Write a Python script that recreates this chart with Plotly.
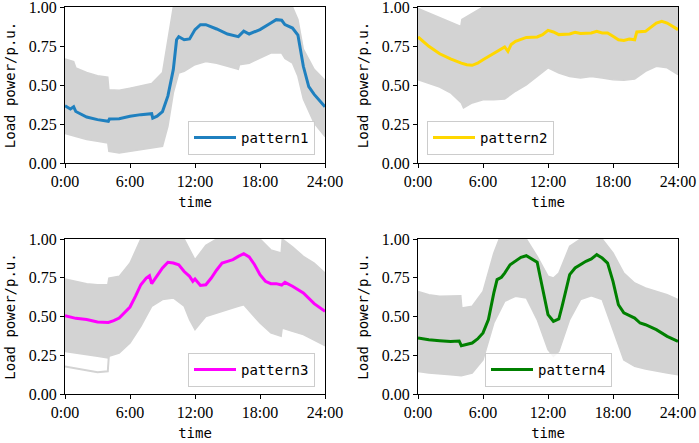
import plotly.graph_objects as go
from plotly.subplots import make_subplots

# hour ticks
tick_vals = [0, 6, 12, 18, 24]
tick_text = ["0:00", "6:00", "12:00", "18:00", "24:00"]

# ---- pattern1 ----
p1_t = [0, 0.5, 0.8, 1, 2, 3, 4, 4.1, 5, 6, 7, 8, 8.1, 8.5, 9, 9.5, 10, 10.3, 10.5, 11, 11.5,
        12, 12.5, 13, 14, 15, 16, 16.5, 17, 18, 19, 19.5, 20, 20.3, 21, 21.5, 22, 22.5, 23, 24]
p1_y = [0.367, 0.346, 0.36, 0.33, 0.295, 0.278, 0.267, 0.282, 0.284, 0.30, 0.31, 0.316, 0.288,
        0.30, 0.33, 0.43, 0.60, 0.79, 0.81, 0.79, 0.795, 0.855, 0.887, 0.887, 0.859, 0.827, 0.81,
        0.845, 0.827, 0.855, 0.897, 0.919, 0.915, 0.887, 0.865, 0.82, 0.62, 0.49, 0.44, 0.36]
p1_up_t = [0, 0.8, 1, 2, 3, 3.95, 4.05, 5, 6, 7, 8, 9, 9.5, 10, 21, 21.5, 22, 23, 24]
p1_up = [0.667, 0.65, 0.61, 0.58, 0.56, 0.55, 0.47, 0.466, 0.48, 0.496, 0.51, 0.58, 0.79, 1.0,
         1.0, 0.92, 0.73, 0.60, 0.53]
p1_lo_t = [0, 1, 2, 3, 3.95, 4.05, 5, 6, 7, 8, 9, 9.5, 10, 10.5, 11, 12, 13, 14, 15, 16, 16.1,
           17, 18, 19, 20, 20.3, 21, 21.5, 22, 23, 24]
p1_lo = [0.19, 0.17, 0.15, 0.14, 0.128, 0.075, 0.064, 0.075, 0.085, 0.096, 0.107, 0.235, 0.45,
         0.577, 0.588, 0.63, 0.65, 0.64, 0.62, 0.60, 0.63, 0.64, 0.67, 0.705, 0.705, 0.67, 0.64,
         0.556, 0.41, 0.256, 0.17]

# ---- pattern2 ----
p2_t = [0, 1, 2, 3, 4, 4.5, 5, 5.5, 6, 7, 7.5, 8, 8.3, 8.6, 9, 10, 11, 11.5, 12, 12.5, 13, 14,
        14.5, 15, 16, 16.5, 17, 17.5, 18, 18.5, 19, 19.5, 20, 20.2, 21, 22, 22.5, 23, 24]
p2_y = [0.808, 0.748, 0.70, 0.667, 0.64, 0.63, 0.626, 0.64, 0.662, 0.705, 0.726, 0.744, 0.716,
        0.76, 0.78, 0.805, 0.808, 0.823, 0.85, 0.84, 0.823, 0.827, 0.838, 0.83, 0.834, 0.844,
        0.834, 0.834, 0.812, 0.79, 0.786, 0.795, 0.79, 0.84, 0.844, 0.897, 0.908, 0.897, 0.855]
p2_up_t = [0, 1, 2, 3, 3.95, 4.05, 5, 6, 24]
p2_up = [0.99, 0.96, 0.93, 0.90, 0.876, 0.92, 0.96, 1.0, 1.0]
p2_lo_t = [0, 1, 2, 3, 4, 4.2, 5, 6, 7, 8, 9, 10, 11, 12, 13, 14, 15, 16, 17, 18, 19, 20, 21,
           22, 23, 24]
p2_lo = [0.534, 0.513, 0.487, 0.45, 0.385, 0.353, 0.385, 0.406, 0.406, 0.41, 0.46, 0.50, 0.555,
         0.61, 0.577, 0.555, 0.545, 0.555, 0.545, 0.534, 0.53, 0.538, 0.587, 0.62, 0.61, 0.566]

# ---- pattern3 ----
p3_t = [0, 1, 2, 3, 4, 4.5, 5, 5.5, 6, 6.5, 7, 7.5, 7.8, 8, 8.5, 9, 9.5, 10, 10.5, 11, 11.5,
        11.8, 12, 12.5, 13, 13.5, 14, 14.5, 15, 15.5, 16, 16.5, 17, 17.5, 18, 18.5, 19, 19.5,
        20, 20.3, 21, 22, 23, 24]
p3_y = [0.505, 0.488, 0.48, 0.465, 0.462, 0.473, 0.49, 0.523, 0.561, 0.63, 0.705, 0.748, 0.763,
        0.712, 0.759, 0.813, 0.85, 0.845, 0.834, 0.79, 0.759, 0.727, 0.742, 0.70, 0.705, 0.748,
        0.80, 0.845, 0.856, 0.867, 0.888, 0.905, 0.884, 0.834, 0.77, 0.727, 0.712, 0.712,
        0.703, 0.72, 0.695, 0.652, 0.583, 0.533]
p3_up_t = [0, 1, 2, 3, 3.95, 4.05, 5, 6, 7, 11, 12, 13, 14, 18, 19, 19.95, 20.05, 21, 22, 23, 24]
p3_up = [0.742, 0.727, 0.712, 0.705, 0.705, 0.748, 0.759, 0.845, 1.0, 1.0, 0.866, 0.96, 1.0,
         1.0, 0.93, 0.91, 1.0, 0.95, 0.888, 0.845, 0.78]
p3_lo_t = [0, 1, 2, 3, 3.95, 4.05, 5, 6, 7, 8, 9, 10, 11, 11.5, 12, 12.5, 13, 14, 15, 16, 16.5,
           17, 18, 19, 19.95, 20.05, 21, 22, 23, 24]
p3_lo = [0.275, 0.264, 0.254, 0.243, 0.232, 0.243, 0.264, 0.329, 0.437, 0.566, 0.609, 0.62,
         0.566, 0.48, 0.415, 0.458, 0.50, 0.523, 0.544, 0.566, 0.576, 0.533, 0.458, 0.394, 0.372,
         0.426, 0.404, 0.383, 0.346, 0.312]
# one low profile under the band in the early hours
p3_out_t = [0, 1, 2, 3, 3.95, 4.05]
p3_out = [0.178, 0.165, 0.15, 0.14, 0.146, 0.25]

# ---- pattern4 ----
p4_t = [0, 1, 2, 3, 3.8, 4, 5, 5.5, 6, 6.5, 7, 7.3, 7.7, 8, 8.5, 9, 9.5, 10, 10.5, 11, 11.3,
        11.7, 12, 12.5, 13, 13.3, 13.7, 14, 14.5, 15, 15.5, 16, 16.5, 17, 17.5, 18, 18.5, 19,
        20, 20.5, 21, 22, 23, 24]
p4_y = [0.361, 0.35, 0.344, 0.338, 0.342, 0.312, 0.329, 0.355, 0.394, 0.48, 0.652, 0.738, 0.753,
        0.78, 0.834, 0.856, 0.882, 0.892, 0.871, 0.85, 0.748, 0.62, 0.512, 0.469, 0.484, 0.566,
        0.695, 0.77, 0.813, 0.834, 0.856, 0.871, 0.899, 0.877, 0.845, 0.727, 0.576, 0.523, 0.49,
        0.458, 0.447, 0.415, 0.372, 0.34]
p4_up_t = [0, 1, 2, 3, 3.95, 4.05, 5, 6, 7, 7.5, 10, 11, 12, 12.5, 13, 14, 15, 17, 18, 19, 20,
           21, 22, 23, 24]
p4_up = [0.662, 0.64, 0.63, 0.63, 0.634, 0.555, 0.566, 0.662, 0.91, 1.0, 1.0, 0.888, 0.76,
         0.748, 0.78, 0.953, 1.0, 1.0, 0.91, 0.78, 0.716, 0.684, 0.662, 0.64, 0.609]
p4_lo_t = [0, 1, 2, 3, 4, 5, 6, 7, 8, 9, 10, 11, 12, 12.5, 13, 14, 15, 16, 17, 18, 19, 20, 21,
           22, 23, 24]
p4_lo = [0.146, 0.135, 0.131, 0.125, 0.118, 0.135, 0.22, 0.458, 0.598, 0.63, 0.62, 0.48, 0.286,
         0.243, 0.275, 0.48, 0.609, 0.634, 0.609, 0.415, 0.22, 0.178, 0.161, 0.146, 0.135, 0.125]

panels = [
    ("pattern1", "#1f80bf", p1_t, p1_y, p1_up_t, p1_up, p1_lo_t, p1_lo),
    ("pattern2", "#ffd700", p2_t, p2_y, p2_up_t, p2_up, p2_lo_t, p2_lo),
    ("pattern3", "#ff00ff", p3_t, p3_y, p3_up_t, p3_up, p3_lo_t, p3_lo),
    ("pattern4", "#008000", p4_t, p4_y, p4_up_t, p4_up, p4_lo_t, p4_lo),
]

gray = "#d3d3d3"
mono = "DejaVu Sans Mono"
serif = "Times New Roman, Liberation Serif, serif"

fig = make_subplots(rows=2, cols=2)

legend_names = ["legend", "legend2", "legend3", "legend4"]
for i, (name, col, t, y, ut, uy, lt, ly) in enumerate(panels):
    r = i // 2 + 1
    c = i % 2 + 1
    # gray band of all daily curves
    fig.add_trace(go.Scatter(x=ut + lt[::-1], y=uy + ly[::-1], fill="toself", fillcolor=gray,
                             mode="lines", line=dict(color=gray, width=1.5),
                             showlegend=False, hoverinfo="skip"), row=r, col=c)
    if i == 2:
        fig.add_trace(go.Scatter(x=p3_out_t, y=p3_out, mode="lines",
                                 line=dict(color=gray, width=2), showlegend=False),
                      row=r, col=c)
    fig.add_trace(go.Scatter(x=t, y=y, mode="lines", name=name, line=dict(color=col, width=3),
                             legend=legend_names[i]), row=r, col=c)

# axes placement (pixels -> paper)
W, H = 699, 443
xdoms = [[65 / W, 325 / W], [418 / W, 678 / W]]
ydoms = [[1 - 163 / H, 1 - 7 / H], [1 - 394 / H, 1 - 239 / H]]

for i in range(4):
    r = i // 2 + 1
    c = i % 2 + 1
    fig.update_xaxes(row=r, col=c, domain=xdoms[c - 1], range=[0, 24], tickvals=tick_vals,
                     ticktext=tick_text, showgrid=False, zeroline=False, showline=True,
                     linecolor="black", linewidth=1, mirror=True, ticks="outside", ticklen=4,
                     tickcolor="black", tickfont=dict(family=serif, size=16, color="black"),
                     automargin=False, ticklabeloverflow="allow",
                     title=dict(text="time", font=dict(family=mono, size=14, color="black"),
                                standoff=7))
    fig.update_yaxes(row=r, col=c, domain=ydoms[r - 1], range=[0, 1],
                     tickvals=[0, 0.25, 0.5, 0.75, 1.0],
                     ticktext=["0.00", "0.25", "0.50", "0.75", "1.00"],
                     showgrid=False, zeroline=False, showline=True, linecolor="black",
                     linewidth=1, mirror=True, ticks="outside", ticklen=4, tickcolor="black",
                     tickfont=dict(family=serif, size=16, color="black"), automargin=False,
                     ticklabeloverflow="allow",
                     title=dict(text="Load power/p.u.",
                                font=dict(family=mono, size=14, color="black"), standoff=9))

leg_style = dict(bgcolor="rgba(255,255,255,0.8)", bordercolor="#cccccc", borderwidth=1,
                 font=dict(family=mono, size=14, color="black"), itemwidth=42,
                 xanchor="left", yanchor="bottom")
fig.update_layout(
    width=W, height=H, margin=dict(l=0, r=0, t=0, b=0, autoexpand=False),
    plot_bgcolor="white", paper_bgcolor="white",
    legend=dict(x=188 / W, y=1 - 155 / H, **leg_style),
    legend2=dict(x=427 / W, y=1 - 155 / H, **leg_style),
    legend3=dict(x=188 / W, y=1 - 387 / H, **leg_style),
    legend4=dict(x=485 / W, y=1 - 387 / H, **leg_style),
)

# page body has a default margin; drop it so the figure sits at the window corner
fig.write_html("out.html", config={"displayModeBar": False},
               post_script="document.body.style.margin='0';")
